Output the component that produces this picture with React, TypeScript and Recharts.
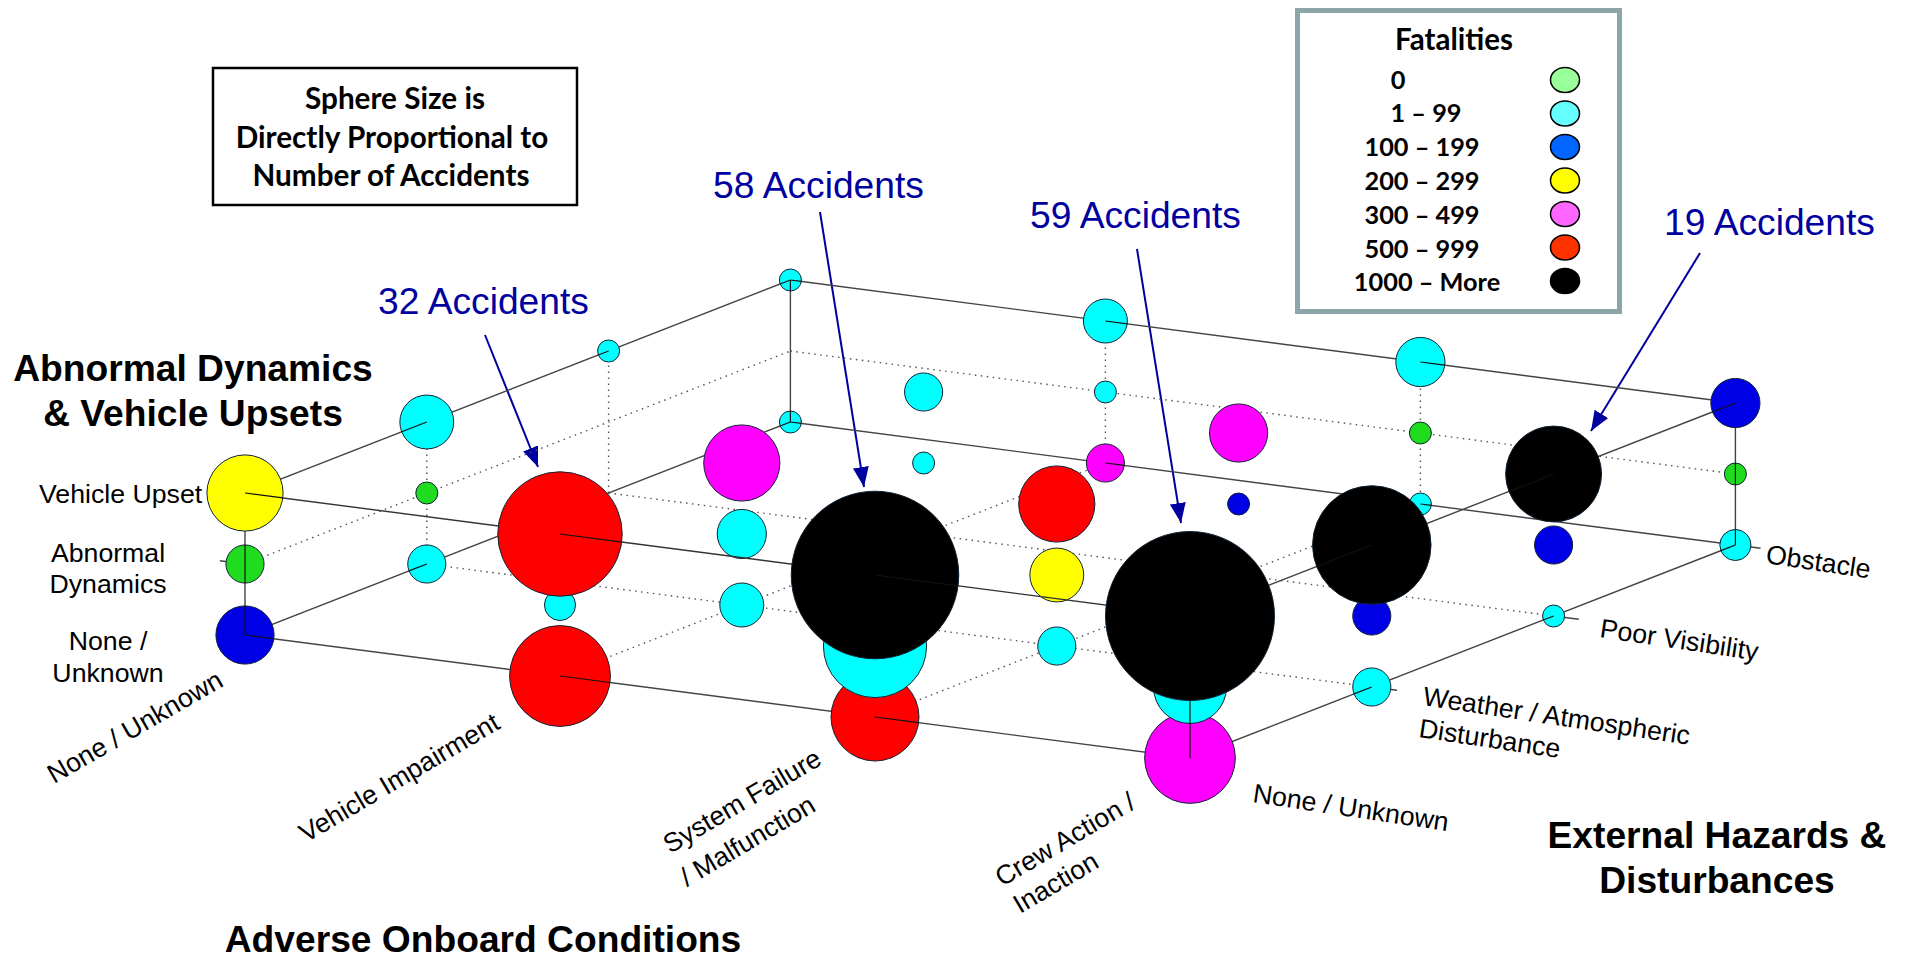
import React from "react";
import { ScatterChart, Scatter, XAxis, YAxis, ZAxis } from "recharts";

// axis categories
const onboardConditions = ["None / Unknown", "Vehicle Impairment", "System Failure / Malfunction", "Crew Action / Inaction"];
const externalHazards = ["None / Unknown", "Weather / Atmospheric Disturbance", "Poor Visibility", "Obstacle"];
const dynamicsLevels = ["None / Unknown", "Abnormal Dynamics", "Vehicle Upset"];

// accidents per cell, rows = onboard condition, columns = external hazard
const accidentsNoDynamics = [
  [7, 3, 0, 1],
  [21, 4, 0, 3],
  [16, 3, 0, 1],
  [17, 3, 1, 2],
];
const accidentsAbnormal = [
  [3, 1, 0, 0],
  [2, 5, 1, 1],
  [22, 6, 1, 1],
  [11, 3, 3, 1],
];
const accidentsUpset = [
  [12, 6, 1, 1],
  [32, 12, 3, 4],
  [58, 12, 7, 5],
  [59, 29, 19, 5],
];

// index into fatalityBands per cell (-1 = no sphere)
const bandsNoDynamics = [
  [2, 1, -1, 1],
  [5, 1, -1, 4],
  [5, 1, -1, 1],
  [4, 1, 1, 1],
];
const bandsAbnormal = [
  [0, 0, -1, -1],
  [1, 1, 1, 1],
  [1, 3, 2, 0],
  [1, 2, 2, 0],
];
const bandsUpset = [
  [3, 1, 1, 1],
  [5, 4, 1, 1],
  [6, 5, 4, 1],
  [6, 6, 6, 2],
];

const fatalityBands = ["0", "1 – 99", "100 – 199", "200 – 299", "300 – 499", "500 – 999", "1000 – More"];
const sphereColors = ["#1fdc1f", "#00ffff", "#0000e6", "#ffff00", "#ff00ff", "#ff0000", "#000000"];
const legendColors = ["#99ff99", "#66ffff", "#0066ff", "#ffff00", "#ff66ff", "#ff3300", "#000000"];
const legendTextX = [1398, 1426, 1422, 1422, 1422, 1422, 1427];

const W = 1907;
const H = 960;

// isometric-ish projection of the grid onto the page
const project = (o: number, h: number, z: number) => ({
  x: 245 + 315 * o + 181.8 * h,
  y: 635 + 41 * o - 71 * h - 71 * z,
});

const levels = [
  { accidents: accidentsNoDynamics, bands: bandsNoDynamics },
  { accidents: accidentsAbnormal, bands: bandsAbnormal },
  { accidents: accidentsUpset, bands: bandsUpset },
];

const cells: any[] = [];
levels.forEach((lvl, z) => {
  onboardConditions.forEach((_, o) => {
    externalHazards.forEach((_, h) => {
      if (lvl.bands[o][h] < 0) return;
      const corner = (o === 0 || o === 3) && (h === 0 || h === 3);
      const rail = z !== 1;
      const front: number[][] = [];
      // half edges that run in front of the sphere
      if (rail && o < 3 && (h === 0 || h === 3)) front.push([315, 41]);
      if (rail && h > 0 && (o === 0 || o === 3)) front.push([-181.8, 71]);
      if (corner && z < 2) front.push([0, -71]);
      if (corner && (z === 1 || (z === 2 && o === 0 && h === 3))) front.push([0, 71]);
      cells.push({
        ...project(o, h, z),
        o, h, z,
        accidents: lvl.accidents[o][h],
        band: lvl.bands[o][h],
        front,
      });
    });
  });
});

const paintOrder = (a: any, b: any) => a.z - b.z || a.o - b.o || b.h - a.h;
const backSpheres = cells.filter((c) => c.h > 0).sort(paintOrder);
const frontSpheres = cells.filter((c) => c.h === 0).sort(paintOrder);

const seg = (a: number[], b: number[]) => [project(a[0], a[1], a[2]), project(b[0], b[1], b[2])];

const solidEdges = [
  seg([0, 0, 0], [3, 0, 0]),
  seg([0, 3, 0], [3, 3, 0]),
  seg([0, 0, 0], [0, 3, 0]),
  seg([3, 0, 0], [3, 3, 0]),
  seg([0, 3, 2], [3, 3, 2]),
  seg([0, 0, 2], [0, 3, 2]),
  seg([3, 0, 2], [3, 3, 2]),
  seg([0, 0, 0], [0, 0, 2]),
  seg([0, 3, 0], [0, 3, 2]),
  seg([3, 3, 0], [3, 3, 2]),
  seg([3, 0, 0], [3, 0, 2]),
  // tick stubs
  seg([3, 0, 0], [3.08, 0, 0]),
  seg([3, 1, 0], [3.08, 1, 0]),
  seg([3, 2, 0], [3.08, 2, 0]),
  seg([3, 3, 0], [3.08, 3, 0]),
  seg([0, 0, 1], [-0.08, 0, 1]),
];
const frontTopEdge = seg([0, 0, 2], [3, 0, 2]);

const dottedEdges = [
  seg([0, 0, 1], [0, 3, 1]),
  seg([0, 3, 1], [3, 3, 1]),
  seg([0, 1, 0], [3, 1, 0]),
  seg([0, 2, 0], [3, 2, 0]),
  seg([1, 0, 0], [1, 3, 0]),
  seg([2, 0, 0], [2, 3, 0]),
  seg([0, 1, 0], [0, 1, 2]),
  seg([0, 2, 0], [0, 2, 2]),
  seg([1, 3, 0], [1, 3, 2]),
  seg([2, 3, 0], [2, 3, 2]),
];

const callouts = [
  { count: 32, x: 378, y: 314, from: [485, 335], to: [538, 467] },
  { count: 58, x: 713, y: 198, from: [820, 212], to: [864, 487] },
  { count: 59, x: 1030, y: 228, from: [1137, 249], to: [1181, 523] },
  { count: 19, x: 1664, y: 235, from: [1700, 253], to: [1591, 431] },
];

const noteLines = ["Sphere Size is", "Directly Proportional to", "Number of Accidents"];
const noteLineX = [395, 392, 391];

const NoPoint = () => <g />;

function Sphere({ cx, cy, width, payload }: any) {
  const r = width / 2;
  return (
    <g>
      <circle cx={cx} cy={cy} r={r} fill={sphereColors[payload.band]} stroke="#123" strokeWidth={1} />
      {payload.front.map((d: number[], i: number) => {
        const len = Math.hypot(d[0], d[1]);
        return (
          <line
            key={i}
            x1={cx}
            y1={cy}
            x2={cx + (d[0] / len) * r}
            y2={cy + (d[1] / len) * r}
            stroke="#111"
            strokeWidth={1.2}
          />
        );
      })}
    </g>
  );
}

const sans = "'Liberation Sans', Arial, sans-serif";
const calibri = "Lato, 'Open Sans', sans-serif";

function AxisText({ x, y, angle = 0, anchor = "start", size = 26.7, weight = "normal", children }: any) {
  return (
    <text
      x={x}
      y={y}
      textAnchor={anchor}
      fontSize={size}
      fontWeight={weight}
      fontFamily={sans}
      fill="#000"
      transform={angle ? `rotate(${angle} ${x} ${y})` : undefined}
    >
      {children}
    </text>
  );
}

export default function App() {
  return (
    <div style={{ position: "absolute", left: 0, top: 0, width: W, height: H, background: "#fff", overflow: "hidden" }}>
      <ScatterChart width={W} height={H} margin={{ top: 0, right: 0, bottom: 0, left: 0 }}>
        <defs>
          <marker id="callout-head" viewBox="0 0 20 16" refX="20" refY="8" markerWidth="20" markerHeight="16" markerUnits="userSpaceOnUse" orient="auto">
            <path d="M0 0 L20 8 L0 16 Z" fill="#0000a0" />
          </marker>
        </defs>
        <XAxis type="number" dataKey="x" domain={[0, W]} hide />
        <YAxis type="number" dataKey="y" domain={[0, H]} reversed hide />
        <ZAxis type="number" dataKey="accidents" domain={[0, 60]} range={[0, Math.PI * 121 * 60]} />

        {dottedEdges.map((e, i) => (
          <Scatter key={`dot${i}`} data={e} line={{ stroke: "#555", strokeWidth: 1.4, strokeDasharray: "1.5 4.5" }} shape={NoPoint} isAnimationActive={false} />
        ))}
        {solidEdges.map((e, i) => (
          <Scatter key={`edge${i}`} data={e} line={{ stroke: "#444", strokeWidth: 1.4 }} shape={NoPoint} isAnimationActive={false} />
        ))}
        <Scatter data={backSpheres} shape={Sphere} isAnimationActive={false} />
        <Scatter data={frontTopEdge} line={{ stroke: "#333", strokeWidth: 1.4 }} shape={NoPoint} isAnimationActive={false} />
        <Scatter data={frontSpheres} shape={Sphere} isAnimationActive={false} />

        {/* axis titles */}
        <AxisText x={193} y={381} anchor="middle" size={37.2} weight="bold">Abnormal Dynamics</AxisText>
        <AxisText x={193} y={426} anchor="middle" size={37.2} weight="bold">& Vehicle Upsets</AxisText>
        <AxisText x={483} y={952} anchor="middle" size={37.2} weight="bold">Adverse Onboard Conditions</AxisText>
        <AxisText x={1717} y={848} anchor="middle" size={37.2} weight="bold">External Hazards &</AxisText>
        <AxisText x={1717} y={893} anchor="middle" size={37.2} weight="bold">Disturbances</AxisText>

        {/* dynamics ticks */}
        <AxisText x={39} y={503}>{dynamicsLevels[2]}</AxisText>
        <AxisText x={108} y={562} anchor="middle">Abnormal</AxisText>
        <AxisText x={108} y={593} anchor="middle">Dynamics</AxisText>
        <AxisText x={108} y={650} anchor="middle">None /</AxisText>
        <AxisText x={108} y={682} anchor="middle">Unknown</AxisText>

        {/* onboard ticks */}
        <AxisText x={54} y={784} angle={-30}>{onboardConditions[0]}</AxisText>
        <AxisText x={306} y={843} angle={-30.5}>{onboardConditions[1]}</AxisText>
        <AxisText x={670} y={854} angle={-30.5}>System Failure</AxisText>
        <AxisText x={687} y={887} angle={-30.5}>/ Malfunction</AxisText>
        <AxisText x={1002} y={887} angle={-30.5}>Crew Action /</AxisText>
        <AxisText x={1020} y={914} angle={-30.5}>Inaction</AxisText>

        {/* hazard ticks */}
        <AxisText x={1252} y={802} angle={8.5}>{externalHazards[0]}</AxisText>
        <AxisText x={1422} y={705} angle={8.5}>Weather / Atmospheric</AxisText>
        <AxisText x={1418} y={737} angle={8.5}>Disturbance</AxisText>
        <AxisText x={1599} y={637} angle={8.5}>{externalHazards[2]}</AxisText>
        <AxisText x={1765} y={563} angle={8.5}>{externalHazards[3]}</AxisText>

        {/* size note */}
        <rect x={213} y={68} width={364} height={137} fill="#fff" stroke="#000" strokeWidth={2.5} />
        {noteLines.map((t, i) => (
          <text key={t} x={noteLineX[i]} y={109 + i * 38.5} textAnchor="middle" fontFamily={calibri} fontWeight="bold" fontSize={29.7}>
            {t}
          </text>
        ))}

        {/* fatalities legend */}
        <rect x={1297.5} y={10.5} width={322} height={301} fill="#fff" stroke="#8ba5a8" strokeWidth={5} />
        <text x={1454} y={50} textAnchor="middle" fontFamily={calibri} fontWeight="bold" fontSize={29.5}>Fatalities</text>
        {fatalityBands.map((b, i) => (
          <g key={b}>
            <text x={legendTextX[i]} y={88.5 + i * 33.8} textAnchor="middle" fontFamily={calibri} fontWeight="bold" fontSize={25.3}>{b}</text>
            <ellipse cx={1565} cy={80 + i * 33.5} rx={14.5} ry={12.5} fill={legendColors[i]} stroke="#000" strokeWidth={1.5} />
          </g>
        ))}

        {/* callouts */}
        {callouts.map((c) => (
          <g key={c.count}>
            <text x={c.x} y={c.y} fontFamily={sans} fontSize={37.2} fill="#0000a0">{c.count} Accidents</text>
            <line x1={c.from[0]} y1={c.from[1]} x2={c.to[0]} y2={c.to[1]} stroke="#0000a0" strokeWidth={2} markerEnd="url(#callout-head)" />
          </g>
        ))}
      </ScatterChart>
    </div>
  );
}
